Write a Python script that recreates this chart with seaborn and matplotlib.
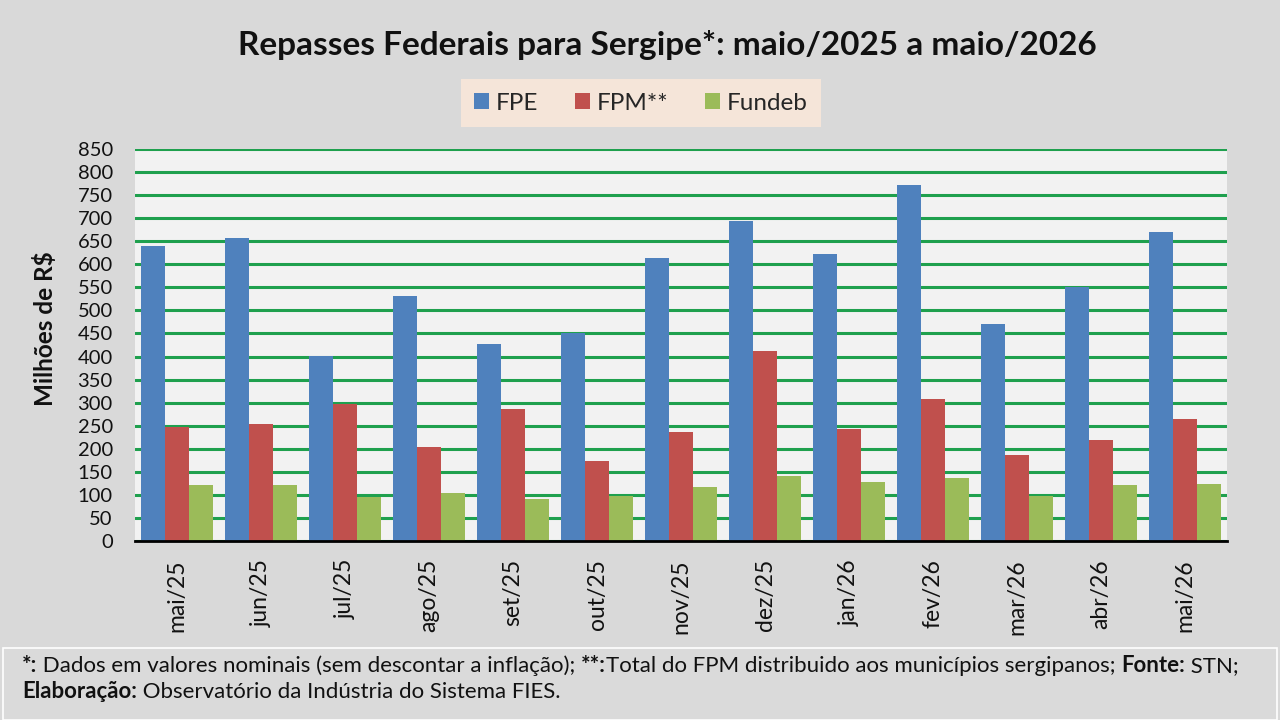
import matplotlib
matplotlib.use("Agg")
import matplotlib.pyplot as plt
import pandas as pd
import seaborn as sns
import numpy as np
from matplotlib.patches import Rectangle

months = ["mai/25", "jun/25", "jul/25", "ago/25", "set/25", "out/25", "nov/25",
          "dez/25", "jan/26", "fev/26", "mar/26", "abr/26", "mai/26"]
fpe = [640, 656, 402, 531, 428, 451, 614, 694, 623, 773, 471, 551, 671]
fpm = [248, 254, 297, 204, 286, 173, 237, 413, 242, 307, 186, 218, 264]
fundeb = [121, 121, 96, 105, 92, 98, 118, 142, 129, 137, 98, 121, 124]
series = ["FPE", "FPM**", "Fundeb"]
colors = ["#4f81bd", "#c0504d", "#9bbb59"]

df = pd.DataFrame({"mes": months * 3,
                   "serie": np.repeat(series, len(months)),
                   "valor": fpe + fpm + fundeb})

sns.set_theme(style="white")
plt.rcParams["font.family"] = ["Lato", "DejaVu Sans"]

fig = plt.figure(figsize=(12.8, 7.2), dpi=100)
fig.patch.set_facecolor("#d9d9d9")
ax = fig.add_axes([135 / 1280, 1 - 541 / 720, (1227 - 135) / 1280, (541 - 149) / 720])
ax.set_facecolor("#f2f2f2")

sns.barplot(data=df, x="mes", y="valor", hue="serie", palette=colors,
            order=months, hue_order=series, width=0.86, saturation=1,
            linewidth=0, ax=ax, zorder=3)

ax.set_ylim(0, 850)
ax.set_xlim(-0.5, len(months) - 0.5)
ax.set_yticks(range(0, 851, 50))
ax.yaxis.grid(True, color="#1fa04e", linewidth=2.2, zorder=0)
ax.set_axisbelow(True)
for s in ["top", "right", "left"]:
    ax.spines[s].set_visible(False)
ax.spines["bottom"].set_color("black")
ax.spines["bottom"].set_linewidth(2)
ax.spines["bottom"].set_zorder(5)

ax.tick_params(axis="y", length=0, pad=16, labelsize=14.5, labelcolor="#111111")
ax.set_xticks(range(len(months)))
ax.set_xticklabels(months, rotation=90, fontsize=16.5)
ax.tick_params(axis="x", which="major", length=0, pad=13, labelcolor="#111111")
ax.set_xticks(np.arange(-0.5, len(months), 1), minor=True)
ax.tick_params(axis="x", which="minor", direction="inout", length=11, width=1.8, color="black")
ax.set_xlabel("")
ax.set_ylabel("Milhões de R$", fontsize=17.5, fontweight="bold", color="#111111")
ax.yaxis.set_label_coords(-0.071, 0.543)

ax.legend_.remove()
handles, labels = ax.get_legend_handles_labels()
leg = fig.legend(handles, labels, loc="center", bbox_to_anchor=(641 / 1280, 1 - 103 / 720),
                 ncol=3, frameon=True, fontsize=17.5, handlelength=0.6, handleheight=0.6,
                 handletextpad=0.3, columnspacing=1.5, borderpad=0.55)
leg.get_frame().set_facecolor("#fde9d9")
leg.get_frame().set_edgecolor("none")
leg.get_frame().set_boxstyle("square", pad=0)
for h in leg.legend_handles:
    h.set_linewidth(0)

fig.text(0.521, 1 - 45 / 720, "Repasses Federais para Sergipe*: maio/2025 a maio/2026",
         ha="center", va="center", fontsize=24, fontweight="bold", color="#111111")

# caixa da nota de rodape
fig.patches.append(Rectangle((3 / 1280, 0), 1274 / 1280, 72 / 720, transform=fig.transFigure,
                             facecolor="#dadada", edgecolor="white", linewidth=1.2, zorder=0))


def rich_line(x, y, parts, size=16):
    renderer = fig.canvas.get_renderer()
    for txt, bold in parts:
        t = fig.text(x, y, txt, fontsize=size, fontweight="bold" if bold else "normal",
                     ha="left", va="center", color="#111111")
        bb = t.get_window_extent(renderer=renderer)
        x += bb.width / fig.bbox.width


rich_line(22 / 1280, 1 - 666 / 720, [
    ("*:", True), (" Dados em valores nominais (sem descontar a inflação); ", False),
    ("**:", True), ("Total do FPM distribuido aos municípios sergipanos; ", False),
    ("Fonte:", True), (" STN;", False)])
rich_line(22 / 1280, 1 - 692 / 720, [
    ("Elaboração:", True), (" Observatório da Indústria do Sistema FIES.", False)])

fig.savefig("out.png", dpi=100, facecolor=fig.get_facecolor())
